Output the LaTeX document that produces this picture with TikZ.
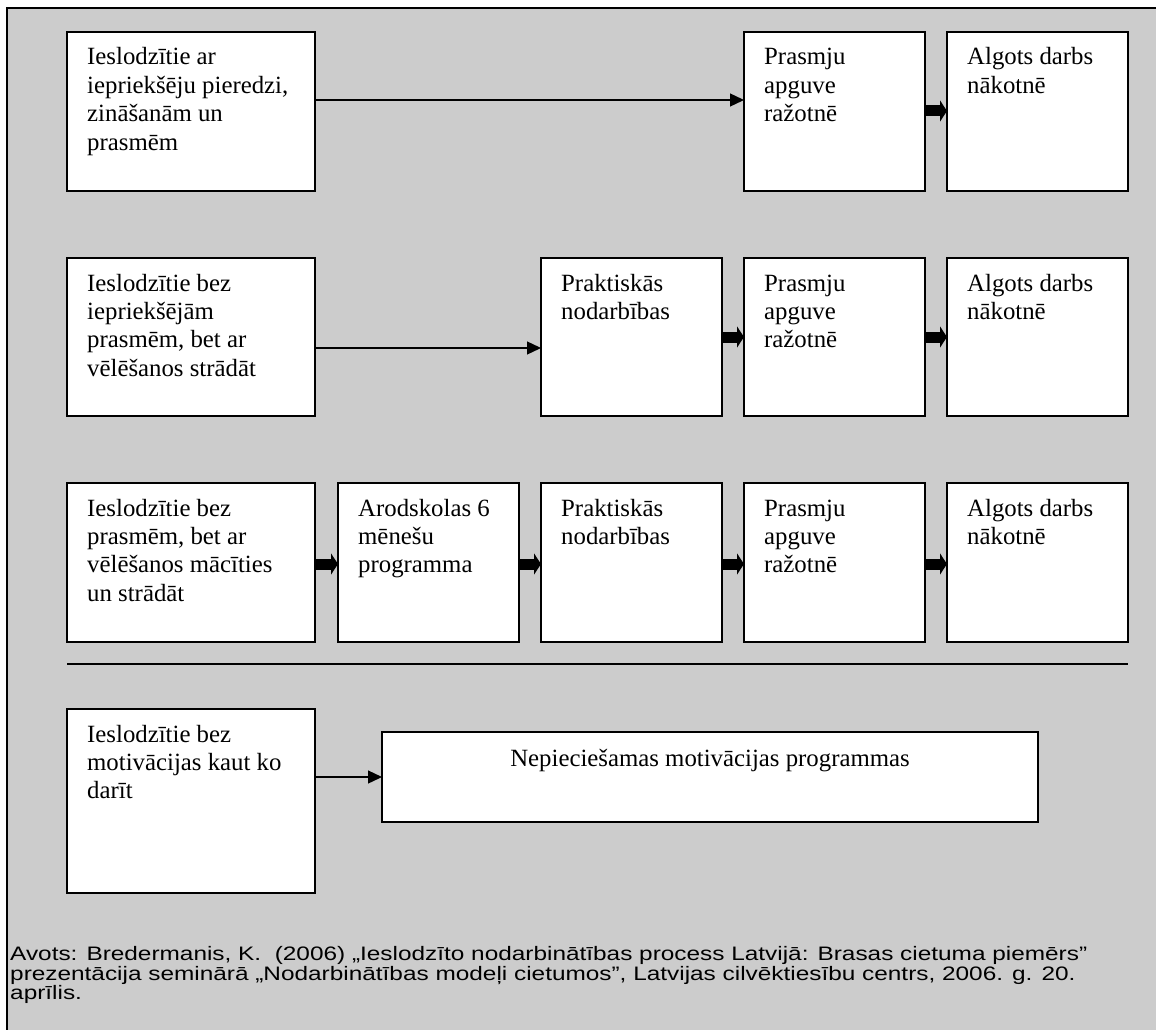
\documentclass[tikz,border=0pt]{standalone}
\usepackage{fontspec}
\usepackage{graphicx}
\setmainfont{Liberation Serif}
\newfontfamily\arialf{Liberation Sans}
\usetikzlibrary{arrows.meta}
\definecolor{bggray}{HTML}{CCCCCC}
\tikzset{
  bx/.style={draw=black, fill=white, line width=1.5pt, anchor=north west, inner sep=0pt, outer sep=0pt},
  bxt/.style={anchor=base west, inner sep=0pt, font=\fontsize{24.8}{28.4}\selectfont},
  srct/.style={anchor=base west, inner sep=0pt, font=\arialf\fontsize{19.5}{20}\selectfont},
  thinarrow/.style={draw=black, line width=1.3pt, -{Triangle[length=14pt,width=13pt]}},
  thickarrow/.style={draw=black, line width=11pt, -{Triangle[length=7pt,width=21pt]}},
}
\newcommand\bx[6]{%
  \node[bx, minimum width={(#4-#2)*1pt}, minimum height={(#5-#3)*1pt}] (#1) at (#2,#3) {};
  \node[bxt] (#1t) at (#2+20,#3+33) {\parbox[t]{300pt}{\raggedright #6}};
}
\newcommand\stretchline[1]{\scalebox{1.25}[1]{#1}}
\begin{document}
\begin{tikzpicture}[x=1pt,y=-1pt]
\useasboundingbox (0,0) rectangle (1156,1030);
\fill[white] (0,0) rectangle (1156,1030);
\draw[line width=2.3pt, fill=bggray] (7,8) rectangle (1180,1050);

% row 1
\bx{a1}{67}{32}{315}{191}{Ieslodzītie ar\\iepriekšēju pieredzi,\\zināšanām un\\prasmēm}
\bx{a2}{744}{32}{925}{191}{Prasmju\\apguve\\ražotnē}
\bx{a3}{947}{32}{1128}{191}{Algots darbs\\nākotnē}
\draw[thinarrow] (a1.east |- 0,100) -- (a2.west |- 0,100);
\draw[thickarrow] (a2.east |- 0,111) -- (a3.west |- 0,111);

% row 2
\bx{b1}{67}{258}{315}{416}{Ieslodzītie bez\\iepriekšējām\\prasmēm, bet ar\\vēlēšanos strādāt}
\bx{b2}{541}{258}{722}{416}{Praktiskās\\nodarbības}
\bx{b3}{744}{258}{925}{416}{Prasmju\\apguve\\ražotnē}
\bx{b4}{947}{258}{1128}{416}{Algots darbs\\nākotnē}
\draw[thinarrow] (b1.east |- 0,348) -- (b2.west |- 0,348);
\draw[thickarrow] (b2.east |- 0,337) -- (b3.west |- 0,337);
\draw[thickarrow] (b3.east |- 0,337) -- (b4.west |- 0,337);

% row 3
\bx{c1}{67}{483}{315}{642}{Ieslodzītie bez\\prasmēm, bet ar\\vēlēšanos mācīties\\un strādāt}
\bx{c2}{338}{483}{519}{642}{Arodskolas 6\\mēnešu\\programma}
\bx{c3}{541}{483}{722}{642}{Praktiskās\\nodarbības}
\bx{c4}{744}{483}{925}{642}{Prasmju\\apguve\\ražotnē}
\bx{c5}{947}{483}{1128}{642}{Algots darbs\\nākotnē}
\draw[thickarrow] (c1.east |- 0,564) -- (c2.west |- 0,564);
\draw[thickarrow] (c2.east |- 0,564) -- (c3.west |- 0,564);
\draw[thickarrow] (c3.east |- 0,564) -- (c4.west |- 0,564);
\draw[thickarrow] (c4.east |- 0,564) -- (c5.west |- 0,564);

% separator
\coordinate (s1) at (67,664);
\coordinate (s2) at (1128,664);
\draw[line width=1.5pt] (s1) -- (s2);

% row 4
\bx{d1}{67}{709}{315}{893}{Ieslodzītie bez\\motivācijas kaut ko\\darīt}
\node[bx, minimum width=656pt, minimum height=90pt] (d2) at (382,732) {};
\node[anchor=base, inner sep=0pt, font=\fontsize{24.8}{28.4}\selectfont] (d2t) at (710,766) {Nepieciešamas motivācijas programmas};
\draw[thinarrow] (d1.east |- 0,777) -- (d2.west |- 0,777);

% source
\node[srct] (src1) at (10,960) {\stretchline{Avots: Bredermanis, K.\ \ (2006) „Ieslodzīto nodarbinātības process Latvijā: Brasas cietuma piemērs”}};
\node[srct] (src2) at (10,980) {\stretchline{prezentācija seminārā „Nodarbinātības modeļi cietumos”, Latvijas cilvēktiesību centrs, 2006. g. 20.}};
\node[srct] (src3) at (10,999) {\stretchline{aprīlis.}};
\end{tikzpicture}
\end{document}
